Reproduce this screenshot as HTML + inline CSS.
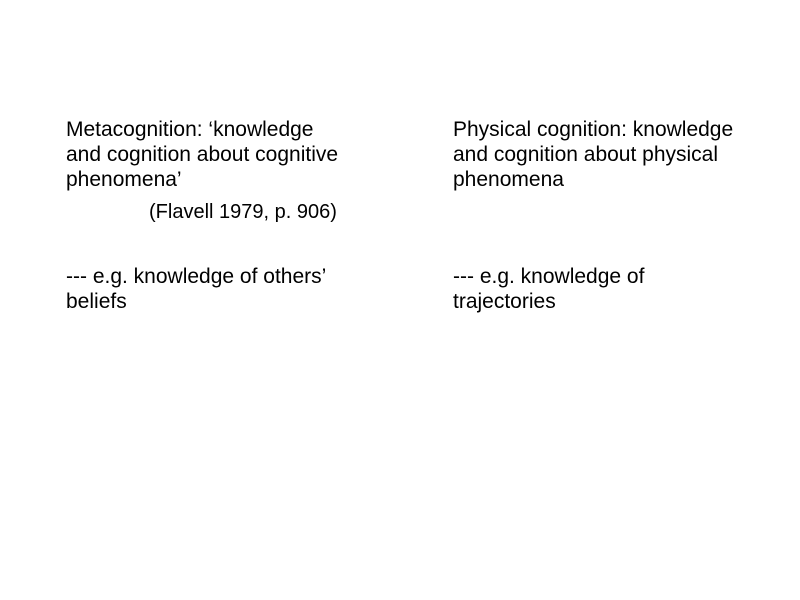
<!DOCTYPE html>
<html><head><meta charset="utf-8"><style>
body{margin:0;width:800px;height:600px;background:#fff;position:relative;overflow:hidden;font-family:"Liberation Sans",sans-serif;font-size:21px;color:#000}
.t{position:absolute;white-space:nowrap;line-height:25px}
</style></head><body>
<div class="t" style="left:66px;top:117px">Metacognition: ‘knowledge<br>and cognition about cognitive<br>phenomena’</div>
<div class="t" style="left:149px;top:200px;font-size:20px">(Flavell 1979, p. 906)</div>
<div class="t" style="left:66px;top:264px">--- e.g. knowledge of others’<br>beliefs</div>
<div class="t" style="left:453px;top:117px">Physical cognition: knowledge<br>and cognition about physical<br>phenomena</div>
<div class="t" style="left:453px;top:264px">--- e.g. knowledge of<br>trajectories</div>
</body></html>
